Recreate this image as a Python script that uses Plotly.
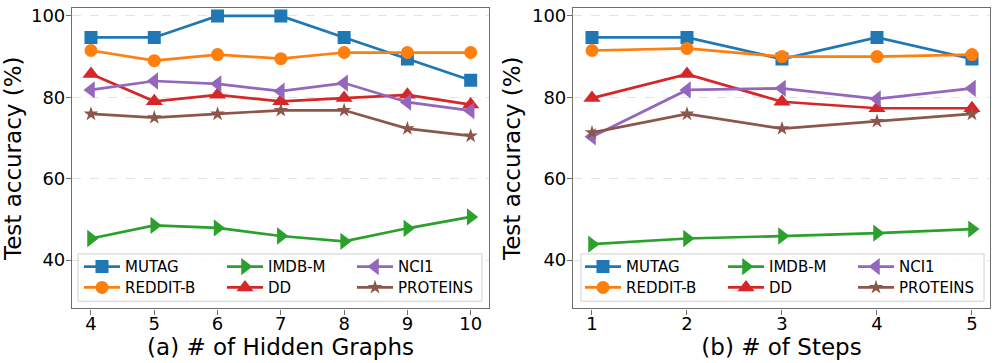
import plotly.graph_objects as go

# data
hidden_graphs = [4, 5, 6, 7, 8, 9, 10]
steps = [1, 2, 3, 4, 5]

datasets = ['MUTAG', 'REDDIT-B', 'IMDB-M', 'DD', 'NCI1', 'PROTEINS']

# (a) # of hidden graphs
mutag_a = [94.7, 94.7, 100.0, 100.0, 94.7, 89.4, 84.2]
reddit_a = [91.5, 89.0, 90.5, 89.5, 91.0, 91.0, 91.0]
imdb_a = [45.3, 48.5, 47.9, 45.9, 44.6, 47.8, 50.6]
dd_a = [85.7, 79.0, 80.6, 79.0, 79.8, 80.6, 78.2]
nci1_a = [81.8, 84.0, 83.3, 81.5, 83.5, 78.8, 76.7]
proteins_a = [75.9, 75.0, 75.9, 76.8, 76.8, 72.3, 70.5]

# (b) # of steps
mutag_b = [94.7, 94.7, 89.4, 94.7, 89.4]
reddit_b = [91.5, 92.0, 90.0, 90.0, 90.5]
imdb_b = [43.9, 45.3, 45.9, 46.6, 47.6]
dd_b = [79.8, 85.7, 78.9, 77.3, 77.3]
nci1_b = [70.3, 81.8, 82.2, 79.6, 82.2]
proteins_b = [71.3, 75.9, 72.3, 74.1, 75.9]

series_a = [mutag_a, reddit_a, imdb_a, dd_a, nci1_a, proteins_a]
series_b = [mutag_b, reddit_b, imdb_b, dd_b, nci1_b, proteins_b]

colors = ['#1f77b4', '#ff7f0e', '#2ca02c', '#d62728', '#9467bd', '#8c564b']
symbols = ['square', 'circle', 'triangle-right', 'triangle-up', 'triangle-left', 'star']
msizes = [13, 13, 15, 15, 15, 11]

FONT = 'DejaVu Sans'

fig = go.Figure()

# legend layout like matplotlib ncol=3: column-major, one small legend per entry
col_of = [0, 0, 1, 1, 2, 2]
row_of = [0, 1, 0, 1, 0, 1]
sym_left = [[84, 227, 357], [585, 728, 858]]   # px where the legend line starts
row_mid = [266, 287]                            # px, legend row centres

legends = {}
k = 1
for p, (xs, series) in enumerate([(hidden_graphs, series_a), (steps, series_b)]):
    xa = 'x' if p == 0 else 'x2'
    ya = 'y' if p == 0 else 'y2'
    for i, name in enumerate(datasets):
        k += 1
        lid = f'legend{k}'
        legends[lid] = dict(
            orientation='v', xanchor='left', yanchor='middle',
            x=(sym_left[p][col_of[i]] - 5) / 996, y=1 - row_mid[row_of[i]] / 363,
            bgcolor='rgba(0,0,0,0)', borderwidth=0, itemwidth=36,
            font=dict(family=FONT, size=15, color='black'),
        )
        fig.add_trace(go.Scatter(
            x=xs, y=series[i], name=name, mode='lines+markers',
            line=dict(color=colors[i], width=2.7),
            marker=dict(symbol=symbols[i], size=msizes[i], color=colors[i]),
            xaxis=xa, yaxis=ya, legend=lid,
        ))

axis_common = dict(
    showline=True, mirror=True, linecolor='#6e6e6e', linewidth=1.2,
    ticks='outside', ticklen=5, tickcolor='#6e6e6e',
    tickfont=dict(family=FONT, size=18, color='black'),
    zeroline=False,
)
yaxis_common = dict(
    axis_common, range=[28.1, 101.95], tickvals=[40, 60, 80, 100],
    showgrid=True, gridcolor='#e3e3e3', griddash='dash', gridwidth=1,
    ticklabelstandoff=-3,
    title=dict(text='Test accuracy (%)', font=dict(family=FONT, size=23, color='black'), standoff=4),
)
xaxis_common = dict(axis_common, showgrid=False, ticklabelstandoff=-6)

fig.update_layout(
    width=996, height=363,
    margin=dict(l=0, r=0, t=0, b=0),
    paper_bgcolor='white', plot_bgcolor='white',
    font=dict(family=FONT, color='black'),
    showlegend=True,
    xaxis=dict(xaxis_common, domain=[0.0723, 0.491], range=[3.7, 10.29], tickvals=hidden_graphs,
               title=dict(text='(a) # of Hidden Graphs', font=dict(family=FONT, size=23, color='black'), standoff=0)),
    yaxis=dict(yaxis_common, domain=[0.1515, 0.9862], anchor='x'),
    xaxis2=dict(xaxis_common, domain=[0.5753, 0.994], range=[0.8, 5.19], tickvals=steps, anchor='y2',
                title=dict(text='(b) # of Steps', font=dict(family=FONT, size=23, color='black'), standoff=0)),
    yaxis2=dict(yaxis_common, domain=[0.1515, 0.9862], anchor='x2'),
    shapes=[
        dict(type='rect', xref='paper', yref='paper', x0=0.0783, x1=0.4839, y0=0.1716, y1=0.303,
             line=dict(color='#d0d0d0', width=1), fillcolor='rgba(255,255,255,0.8)', layer='above'),
        dict(type='rect', xref='paper', yref='paper', x0=0.5833, x1=0.988, y0=0.1716, y1=0.303,
             line=dict(color='#d0d0d0', width=1), fillcolor='rgba(255,255,255,0.8)', layer='above'),
    ],
    **legends,
)

# drop the default 8px body margin so the figure sits at the page corner
fig.write_html('out.html', config={'displayModeBar': False},
               post_script="document.body.style.margin='0px';")
